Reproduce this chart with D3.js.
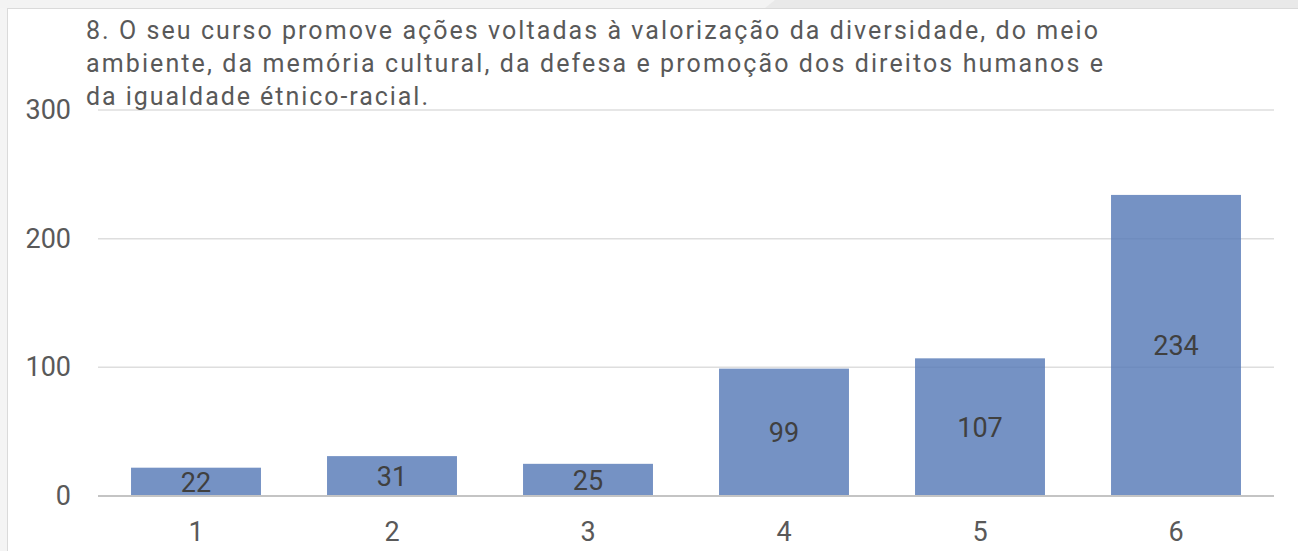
<!DOCTYPE html>
<html>
<head>
<meta charset="utf-8">
<script src="https://cdn.jsdelivr.net/npm/d3@7"></script>
<style>
  body { margin: 0; background: #fff; }
  svg { display: block; font-family: Roboto, 'Noto Sans', sans-serif; }
</style>
</head>
<body>
<div id="chart"></div>
<script>
// data
const categories = ['1', '2', '3', '4', '5', '6'];
const values = [22, 31, 25, 99, 107, 234];
const yTicks = [0, 100, 200, 300];
const titleLines = [
  '8. O seu curso promove ações voltadas à valorização da diversidade, do meio',
  'ambiente, da memória cultural, da defesa e promoção dos direitos humanos e',
  'da igualdade étnico-racial.'
];

// dimension stuff
const width = 1298;
const height = 551;
const plot = { left: 98, right: 1274, top: 110, bottom: 496 };

const $svg = d3.select('#chart').append('svg')
  .attr('width', width)
  .attr('height', height);

// page frame behind the card
$svg.append('rect').attr('x', 0).attr('y', 0).attr('width', width).attr('height', 8).attr('fill', '#e9e9e9');
$svg.append('path').attr('d', 'M0,0 H775 L765,8 H0 Z').attr('fill', '#f3f3f3');
$svg.append('rect').attr('x', 0).attr('y', 8).attr('width', 7).attr('height', height).attr('fill', '#f4f4f4');
$svg.append('line').attr('x1', 7).attr('x2', width).attr('y1', 8.5).attr('y2', 8.5).attr('stroke', '#dadada');
$svg.append('line').attr('x1', 7.5).attr('x2', 7.5).attr('y1', 8).attr('y2', height).attr('stroke', '#dadada');

// scales
const scaleX = d3.scaleBand().domain(categories).range([plot.left, plot.right]).paddingInner(0.337).paddingOuter(0.1685);
const scaleY = d3.scaleLinear().domain([0, 300]).range([plot.bottom, plot.top]);

// gridlines
$svg.append('g').attr('class', 'g-grid')
  .selectAll('line')
  .data(yTicks.filter(d => d > 0))
  .join('line')
  .attr('x1', plot.left)
  .attr('x2', plot.right)
  .attr('y1', d => scaleY(d))
  .attr('y2', d => scaleY(d))
  .attr('stroke', '#dedede')
  .attr('stroke-width', 1.5);

// y labels
$svg.append('g').attr('class', 'g-y')
  .selectAll('text')
  .data(yTicks)
  .join('text')
  .attr('x', 71)
  .attr('y', d => scaleY(d) + 9)
  .attr('text-anchor', 'end')
  .attr('font-size', 27)
  .attr('fill', '#595959')
  .text(d => d);

// bars
$svg.append('g').attr('class', 'g-bars')
  .selectAll('rect')
  .data(values)
  .join('rect')
  .attr('x', (d, i) => scaleX(categories[i]))
  .attr('width', scaleX.bandwidth())
  .attr('y', d => scaleY(d))
  .attr('height', d => scaleY(0) - scaleY(d))
  .attr('fill', 'rgb(83,119,181)')
  .attr('fill-opacity', 0.8);

// axis baseline
$svg.append('line')
  .attr('x1', plot.left)
  .attr('x2', plot.right)
  .attr('y1', scaleY(0))
  .attr('y2', scaleY(0))
  .attr('stroke', '#c4c4c4')
  .attr('stroke-width', 2);

// bar labels, centred in the bar
$svg.append('g').attr('class', 'g-labels')
  .selectAll('text')
  .data(values)
  .join('text')
  .attr('x', (d, i) => scaleX(categories[i]) + scaleX.bandwidth() / 2)
  .attr('y', d => (scaleY(d) + scaleY(0)) / 2 + 10)
  .attr('text-anchor', 'middle')
  .attr('font-size', 27)
  .attr('fill', '#404040')
  .text(d => d);

// x labels
$svg.append('g').attr('class', 'g-x')
  .selectAll('text')
  .data(categories)
  .join('text')
  .attr('x', d => scaleX(d) + scaleX.bandwidth() / 2)
  .attr('y', 541)
  .attr('text-anchor', 'middle')
  .attr('font-size', 27)
  .attr('fill', '#595959')
  .text(d => d);

// title
const lineWidths = [1012, 1017, 342];
$svg.append('g').attr('class', 'g-title')
  .selectAll('text')
  .data(titleLines)
  .join('text')
  .attr('x', 86)
  .attr('y', (d, i) => 39 + i * 33)
  .attr('font-size', 25)
  .attr('fill', '#595959')
  .attr('textLength', (d, i) => lineWidths[i])
  .attr('lengthAdjust', 'spacing')
  .text(d => d);
</script>
</body>
</html>
